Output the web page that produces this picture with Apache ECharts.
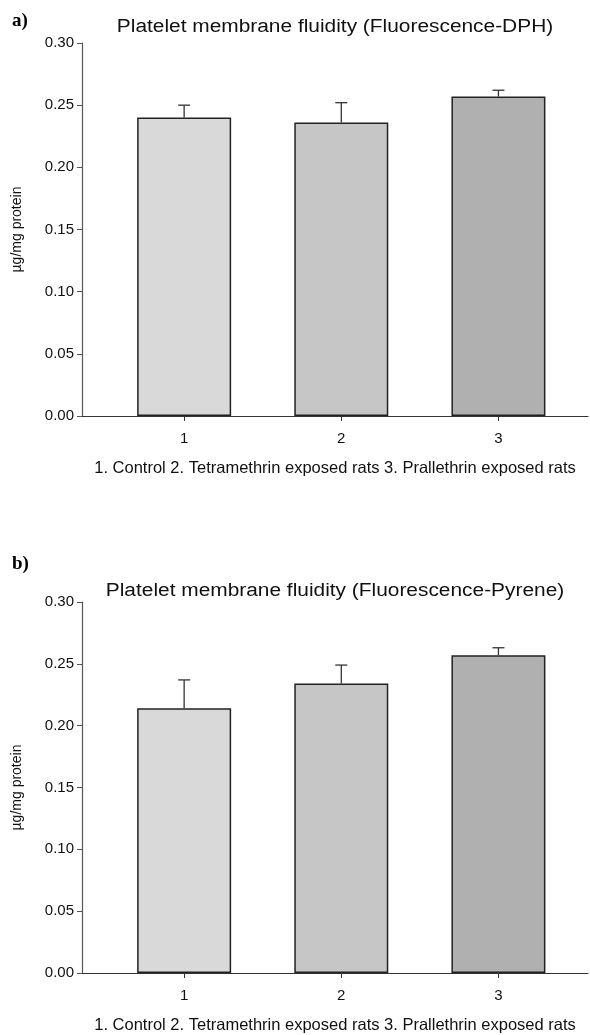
<!DOCTYPE html>
<html>
<head>
<meta charset="utf-8">
<script src="https://cdn.jsdelivr.net/npm/echarts@6/dist/echarts.min.js"></script>
<style>html,body{margin:0;padding:0;background:#fff}#c{width:590px;height:1035px}</style>
</head>
<body>
<div id="c"></div>
<script>
const categories = ['1', '2', '3'];
const dphMeans = [0.240, 0.236, 0.257];
const dphErr = [0.010, 0.016, 0.005];
const pyreneMeans = [0.214, 0.234, 0.257];
const pyreneErr = [0.023, 0.015, 0.006];
const barColors = ['#d9d9d9', '#c6c6c6', '#b0b0b0'];
const titles = ['Platelet membrane fluidity (Fluorescence-DPH)', 'Platelet membrane fluidity (Fluorescence-Pyrene)'];
const panelLetters = ['a)', 'b)'];
const xName = '1. Control 2. Tetramethrin exposed rats 3. Prallethrin exposed rats';
const yName = 'µg/mg protein';

const FONT = 'Liberation Sans, Arial, sans-serif';
const chart = echarts.init(document.getElementById('c'), null, {renderer: 'canvas'});

const xPos = categories.map((c, i) => i + 1);

function barData(means) {
  return means.map((m, i) => ({value: [xPos[i], m], itemStyle: {color: barColors[i]}}));
}
function errData(means, errs) {
  return means.map((m, i) => [xPos[i], m, m + errs[i]]);
}
function renderErr(params, api) {
  const x = api.value(0);
  const p0 = api.coord([x, api.value(1)]);
  const p1 = api.coord([x, api.value(2)]);
  const cap = 6;
  const st = {stroke: '#333', lineWidth: 1.3};
  return {type: 'group', children: [
    {type: 'line', shape: {x1: p0[0], y1: p0[1], x2: p1[0], y2: p1[1]}, style: st},
    {type: 'line', shape: {x1: p1[0] - cap, y1: p1[1], x2: p1[0] + cap, y2: p1[1]}, style: st}
  ]};
}

const grids = [
  {left: 82, right: 2, top: 43, height: 373},
  {left: 82, right: 2, top: 602, height: 372}
];

function xAxisFor(g) {
  return {
    type: 'value', gridIndex: g, min: 0.35, max: 3.57,
    name: xName, nameLocation: 'middle', nameGap: 44,
    nameTextStyle: {fontFamily: FONT, fontSize: 16.5, color: '#111'},
    axisLine: {show: true, onZero: false, lineStyle: {color: '#333', width: 1.2}},
    axisTick: {show: true, length: 5, customValues: xPos, lineStyle: {color: '#333'}},
    axisLabel: {customValues: xPos, formatter: v => categories[Math.round(v) - 1] || '', fontFamily: FONT, fontSize: 15, color: '#111', margin: 15},
    splitLine: {show: false}
  };
}
function yAxisFor(g) {
  return {
    type: 'value', gridIndex: g, min: 0, max: 0.3, interval: 0.05,
    name: yName, nameLocation: 'middle', nameGap: 58,
    nameTextStyle: {fontFamily: FONT, fontSize: 14, color: '#111'},
    axisLine: {show: true, lineStyle: {color: '#555', width: 1.2}},
    axisTick: {show: true, length: 5, lineStyle: {color: '#555'}},
    axisLabel: {formatter: v => v.toFixed(2), fontFamily: FONT, fontSize: 15, color: '#111', margin: 8},
    splitLine: {show: false}
  };
}

function titleText(i, y) {
  return {type: 'text', x: 335, y: y, scaleX: 1.16,
    style: {text: titles[i], font: '18px ' + FONT, fill: '#111', textAlign: 'center', textVerticalAlign: 'middle'}};
}

const option = {
  animation: false,
  backgroundColor: '#fff',
  grid: grids,
  xAxis: [xAxisFor(0), xAxisFor(1)],
  yAxis: [yAxisFor(0), yAxisFor(1)],
  graphic: [
    {type: 'text', left: 12, top: 12, style: {text: panelLetters[0], font: 'bold 19px "Liberation Serif", "Times New Roman", serif', fill: '#000'}},
    {type: 'text', left: 12, top: 555, style: {text: panelLetters[1], font: 'bold 19px "Liberation Serif", "Times New Roman", serif', fill: '#000'}},
    titleText(0, 27),
    titleText(1, 591)
  ],
  series: [
    {type: 'bar', xAxisIndex: 0, yAxisIndex: 0, barWidth: 94, data: barData(dphMeans),
     itemStyle: {borderColor: '#222', borderWidth: 1.5}},
    {type: 'custom', xAxisIndex: 0, yAxisIndex: 0, renderItem: renderErr, data: errData(dphMeans, dphErr), z: 3},
    {type: 'bar', xAxisIndex: 1, yAxisIndex: 1, barWidth: 94, data: barData(pyreneMeans),
     itemStyle: {borderColor: '#222', borderWidth: 1.5}},
    {type: 'custom', xAxisIndex: 1, yAxisIndex: 1, renderItem: renderErr, data: errData(pyreneMeans, pyreneErr), z: 3}
  ]
};
chart.setOption(option);
</script>
</body>
</html>
